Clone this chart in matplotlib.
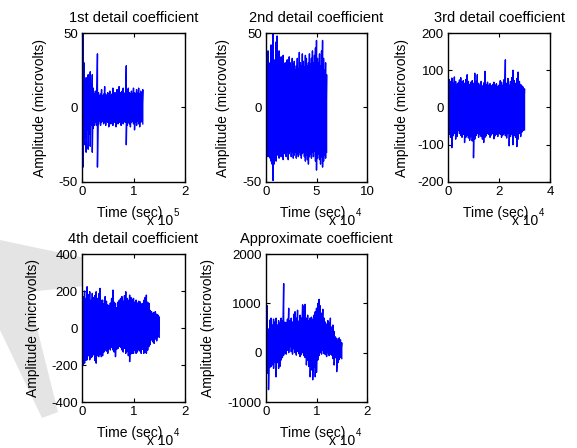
import matplotlib
matplotlib.use("Agg")
import matplotlib.pyplot as plt
from matplotlib.patches import Polygon
import numpy as np

plt.rcParams["font.family"] = ["Liberation Sans", "DejaVu Sans"]
plt.rcParams["axes.unicode_minus"] = False

W, H = 577, 448

# envelope of each coefficient (upper and lower value per time sample)
# 1st detail: t = 0 .. 1.18 (x 10^5), step 0.02
t1 = np.arange(60) * 0.02
hi1 = [22, 50, 30, 18, 20, 12, 22, 15, 24, 10,
       22, 13, 9, 11, 10, 36, 10, 8, 9, 12,
       8, 9, 14, 9, 8, 10, 9, 11, 8, 9,
       13, 9, 10, 8, 12, 9, 14, 10, 9, 11,
       13, 9, 10, 28, 12, 13, 10, 9, 11, 9,
       13, 10, 9, 12, 10, 13, 9, 11, 10, 12]
lo1 = [-38, -40, -25, -20, -30, -15, -28, -18, -26, -12,
       -30, -14, -12, -10, -12, -40, -11, -9, -12, -10,
       -9, -11, -10, -12, -9, -10, -13, -9, -11, -10,
       -12, -9, -10, -13, -9, -11, -10, -9, -12, -10,
       -11, -9, -10, -25, -12, -10, -11, -13, -10, -9,
       -11, -15, -10, -12, -9, -11, -13, -10, -9, -11]

# 2nd detail: t = 0 .. 6.0 (x 10^4), step 0.1
t2 = np.arange(61) * 0.1
hi2 = [37, 35, 38, 25, 30, 42, 35, 50, 32, 30,
       44, 48, 30, 38, 28, 34, 30, 35, 27, 30,
       25, 32, 28, 34, 30, 26, 33, 29, 31, 25,
       28, 33, 26, 37, 30, 28, 36, 31, 27, 35,
       33, 28, 30, 36, 29, 33, 38, 30, 35, 40,
       45, 33, 30, 36, 28, 38, 45, 33, 25, 30, 22]
lo2 = [-35, -30, -33, -28, -34, -36, -38, -49, -38, -33,
       -36, -32, -30, -34, -31, -33, -29, -35, -31, -30,
       -33, -30, -35, -31, -29, -33, -30, -34, -32, -30,
       -34, -31, -33, -30, -32, -34, -31, -30, -33, -36,
       -32, -35, -38, -33, -31, -34, -30, -33, -29, -36,
       -42, -34, -31, -35, -38, -33, -40, -36, -32, -34, -30]

# 3rd detail: t = 0 .. 3.0 (x 10^4), step 0.05
t3 = np.arange(61) * 0.05
hi3 = [72, 75, 70, 79, 65, 82, 70, 62, 66, 74,
       80, 68, 72, 65, 75, 88, 70, 62, 68, 72,
       65, 92, 70, 88, 65, 60, 70, 58, 66, 97,
       62, 68, 60, 64, 58, 62, 68, 60, 64, 57,
       60, 72, 68, 60, 75, 128, 65, 78, 60, 70,
       80, 100, 72, 65, 78, 95, 70, 62, 58, 55, 50]
lo3 = [-60, -72, -80, -108, -76, -70, -85, -78, -62, -70,
       -75, -80, -72, -94, -80, -75, -82, -88, -78, -90,
       -135, -85, -75, -70, -80, -72, -78, -85, -94, -80,
       -76, -70, -72, -80, -74, -70, -84, -76, -72, -78,
       -68, -72, -80, -74, -70, -76, -82, -70, -103, -78,
       -72, -100, -75, -80, -105, -85, -70, -78, -66, -62, -60]

# 4th detail: t = 0 .. 1.5 (x 10^4), step 0.025
t4 = np.arange(61) * 0.025
hi4 = [185, 170, 200, 160, 223, 180, 196, 150, 187, 165,
       175, 196, 160, 185, 214, 150, 151, 130, 170, 145,
       125, 120, 135, 160, 205, 140, 133, 110, 140, 151,
       160, 170, 145, 175, 196, 160, 150, 178, 165, 155,
       160, 140, 151, 135, 145, 142, 130, 133, 150, 165,
       178, 140, 133, 95, 88, 79, 85, 88, 75, 70, 60]
lo4 = [-254, -200, -190, -175, -172, -150, -172, -160, -155, -145,
       -175, -190, -150, -155, -140, -155, -150, -130, -119, -125,
       -137, -110, -119, -105, -119, -130, -155, -115, -110, -100,
       -105, -119, -130, -110, -137, -125, -150, -182, -140, -137,
       -137, -120, -137, -130, -119, -125, -137, -115, -137, -130,
       -137, -120, -100, -90, -65, -75, -83, -60, -70, -47, -50]

# approximate: t = 0 .. 1.5 (x 10^4), step 0.025
t5 = np.arange(61) * 0.025
hi5 = [900, 950, 480, 660, 700, 560, 680, 620, 700, 560,
       650, 600, 700, 650, 1400, 620, 600, 680, 900, 650,
       700, 620, 780, 830, 700, 860, 640, 760, 700, 970,
       940, 980, 700, 760, 650, 700, 720, 680, 760, 830,
       900, 1000, 1080, 950, 800, 880, 700, 620, 580, 650,
       600, 700, 520, 560, 430, 320, 290, 250, 300, 260, 200]
lo5 = [-250, -420, -750, -300, -280, -250, -320, -200, -490, -200,
       -320, -280, -150, -100, -50, 0, -30, 50, 0, 120,
       20, -30, 80, 0, -50, 30, -20, -80, -40, 0,
       -60, -100, -250, -150, -280, -490, -350, -550, -300, -490,
       -400, -150, -60, 0, -30, 50, -20, -40, -80, 0,
       -60, -30, -50, -120, -250, -100, -385, -200, -140, -100, -120]

titles = ["1st detail coefficient", "2nd detail coefficient", "3rd detail coefficient",
          "4th detail coefficient", "Approximate coefficient"]
xlims = [(0, 2), (0, 10), (0, 4), (0, 2), (0, 2)]
ylims = [(-50, 50), (-50, 50), (-200, 200), (-400, 400), (-1000, 2000)]
xticks = [[0, 1, 2], [0, 5, 10], [0, 2, 4], [0, 1, 2], [0, 1, 2]]
yticks = [[-50, 0, 50], [-50, 0, 50], [-200, -100, 0, 100, 200],
          [-400, -200, 0, 200, 400], [-1000, 0, 1000, 2000]]
exponents = ["5", "4", "4", "4", "4"]
series = [(t1, hi1, lo1), (t2, hi2, lo2), (t3, hi3, lo3), (t4, hi4, lo4), (t5, hi5, lo5)]

# axes boxes in pixels: left, top, right, bottom
boxes = [(82, 33, 185, 182), (266, 33, 367, 182), (448, 33, 550, 182),
         (82, 254, 185, 402), (266, 254, 367, 402)]
ylabel_x = [40, 223, 402, 33, 208]


def fxy(x, y):
    return (x / W, 1 - y / H)


fig = plt.figure(figsize=(W / 100, H / 100), dpi=100)

# faint watermark behind the lower-left panel
wm = Polygon([fxy(0, 240), fxy(85, 258), fxy(85, 286), fxy(28, 292),
              fxy(58, 412), fxy(42, 418), fxy(0, 330)],
             closed=True, facecolor="#e4e4e4", edgecolor="none",
             transform=fig.transFigure, zorder=-5)
fig.patches.append(wm)

for i in range(5):
    l, t, r, b = boxes[i]
    ax = fig.add_axes([l / W, 1 - b / H, (r - l) / W, (b - t) / H])
    tt, hi, lo = series[i]
    x = np.repeat(tt, 2)
    y = np.column_stack([hi, lo]).ravel()
    ax.plot(x, y, color="#0000ff", linewidth=1.0)
    ax.set_xlim(*xlims[i])
    ax.set_ylim(*ylims[i])
    ax.set_xticks(xticks[i])
    ax.set_yticks(yticks[i])
    ax.tick_params(direction="in", top=True, right=True, length=3, width=0.8,
                   labelsize=9.5, pad=3)
    for s in ax.spines.values():
        s.set_linewidth(1.0)
    ax.set_title(titles[i], fontsize=10.5, pad=8)

    fig.text(ylabel_x[i] / W, 1 - ((t + b) / 2) / H, "Amplitude (microvolts)",
             rotation=90, ha="center", va="center", fontsize=10)
    fig.text((l + r) / 2 / W - 0.006, 1 - (b + 31) / H, "Time (sec)",
             ha="center", va="center", fontsize=10)
    fig.text((r - 12) / W, 1 - (b + 39) / H, "x 10", ha="right", va="center", fontsize=10)
    fig.text((r - 11) / W, 1 - (b + 31) / H, exponents[i], ha="left", va="center", fontsize=7)

fig.savefig("out.png", dpi=100)
